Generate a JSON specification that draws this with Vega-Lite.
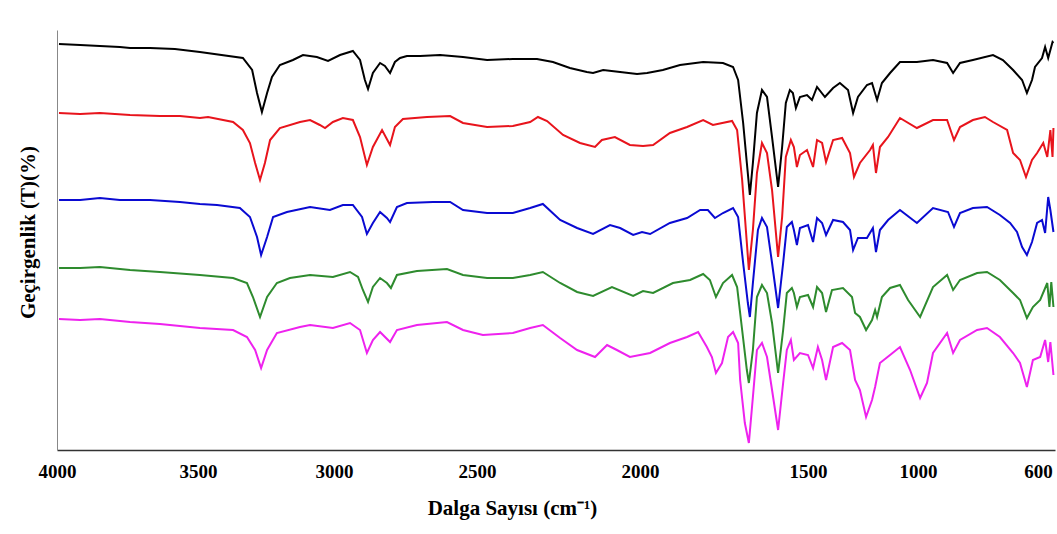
{
"$schema":"https://vega.github.io/schema/vega-lite/v6.json",
"width":998,"height":420,
"autosize":{"type":"none"},
"padding":{"left":57,"top":30,"right":2,"bottom":84},
"background":"white",
"config":{"view":{"stroke":null}},
"data":{"values":[
{"s":"1","wn":3993,"t":101.5},{"s":"1","wn":3918,"t":101.25},{"s":"1","wn":3848,"t":101},{"s":"1","wn":3777,"t":100.75},{"s":"1","wn":3741,"t":100.5},{"s":"1","wn":3670,"t":100.5},{"s":"1","wn":3582,"t":100.25},{"s":"1","wn":3493,"t":99.5},{"s":"1","wn":3335,"t":98},{"s":"1","wn":3301,"t":95},{"s":"1","wn":3283,"t":89.25},{"s":"1","wn":3265,"t":84.5},{"s":"1","wn":3246,"t":89.25},{"s":"1","wn":3228,"t":93.25},{"s":"1","wn":3199,"t":96.25},{"s":"1","wn":3151,"t":97.5},{"s":"1","wn":3114,"t":98.75},{"s":"1","wn":3063,"t":98.25},{"s":"1","wn":3022,"t":97.25},{"s":"1","wn":2979,"t":98.75},{"s":"1","wn":2934,"t":99.75},{"s":"1","wn":2909,"t":97.5},{"s":"1","wn":2892,"t":92.5},{"s":"1","wn":2881,"t":90.25},{"s":"1","wn":2864,"t":94.25},{"s":"1","wn":2839,"t":96.75},{"s":"1","wn":2822,"t":96},{"s":"1","wn":2804,"t":94.25},{"s":"1","wn":2787,"t":97},{"s":"1","wn":2769,"t":98},{"s":"1","wn":2745,"t":98.5},{"s":"1","wn":2699,"t":98.5},{"s":"1","wn":2629,"t":98.75},{"s":"1","wn":2549,"t":98.25},{"s":"1","wn":2469,"t":97.5},{"s":"1","wn":2390,"t":97.75},{"s":"1","wn":2316,"t":97.75},{"s":"1","wn":2267,"t":97},{"s":"1","wn":2215,"t":95.5},{"s":"1","wn":2163,"t":94.5},{"s":"1","wn":2144,"t":94.25},{"s":"1","wn":2113,"t":95},{"s":"1","wn":2061,"t":94.5},{"s":"1","wn":2009,"t":94},{"s":"1","wn":1979,"t":94.25},{"s":"1","wn":1932,"t":95},{"s":"1","wn":1881,"t":96.25},{"s":"1","wn":1812,"t":97},{"s":"1","wn":1753,"t":96.75},{"s":"1","wn":1723,"t":95.75},{"s":"1","wn":1708,"t":92.5},{"s":"1","wn":1693,"t":81.75},{"s":"1","wn":1682,"t":71.75},{"s":"1","wn":1673,"t":63.75},{"s":"1","wn":1664,"t":71.75},{"s":"1","wn":1652,"t":84.25},{"s":"1","wn":1637,"t":90},{"s":"1","wn":1622,"t":88.25},{"s":"1","wn":1607,"t":78.25},{"s":"1","wn":1589,"t":65.75},{"s":"1","wn":1577,"t":75.75},{"s":"1","wn":1566,"t":86.75},{"s":"1","wn":1554,"t":90},{"s":"1","wn":1545,"t":89.25},{"s":"1","wn":1536,"t":85.5},{"s":"1","wn":1524,"t":88.25},{"s":"1","wn":1503,"t":88.75},{"s":"1","wn":1482,"t":87.5},{"s":"1","wn":1459,"t":90.75},{"s":"1","wn":1423,"t":88.25},{"s":"1","wn":1386,"t":90.5},{"s":"1","wn":1355,"t":91.75},{"s":"1","wn":1318,"t":90},{"s":"1","wn":1295,"t":84.25},{"s":"1","wn":1273,"t":88.25},{"s":"1","wn":1232,"t":91.25},{"s":"1","wn":1209,"t":91.75},{"s":"1","wn":1186,"t":87.5},{"s":"1","wn":1164,"t":91.75},{"s":"1","wn":1127,"t":94.25},{"s":"1","wn":1082,"t":97},{"s":"1","wn":1005,"t":97},{"s":"1","wn":950,"t":97.5},{"s":"1","wn":903,"t":96.75},{"s":"1","wn":883,"t":94.25},{"s":"1","wn":860,"t":96.75},{"s":"1","wn":817,"t":97.5},{"s":"1","wn":750,"t":98.75},{"s":"1","wn":717,"t":97.5},{"s":"1","wn":683,"t":95},{"s":"1","wn":653,"t":92.5},{"s":"1","wn":637,"t":89.25},{"s":"1","wn":620,"t":92.5},{"s":"1","wn":610,"t":95.75},{"s":"1","wn":587,"t":98},{"s":"1","wn":577,"t":100.75},{"s":"1","wn":567,"t":98},{"s":"1","wn":553,"t":102},{"s":"1","wn":550,"t":101.75},
{"s":"2","wn":3993,"t":84.25},{"s":"2","wn":3918,"t":84},{"s":"2","wn":3848,"t":84.25},{"s":"2","wn":3741,"t":83.75},{"s":"2","wn":3635,"t":83.5},{"s":"2","wn":3564,"t":83.5},{"s":"2","wn":3493,"t":83},{"s":"2","wn":3463,"t":83.25},{"s":"2","wn":3371,"t":82},{"s":"2","wn":3335,"t":80},{"s":"2","wn":3309,"t":76.75},{"s":"2","wn":3290,"t":71.75},{"s":"2","wn":3272,"t":67.5},{"s":"2","wn":3254,"t":71.75},{"s":"2","wn":3235,"t":77.5},{"s":"2","wn":3199,"t":80.5},{"s":"2","wn":3125,"t":82},{"s":"2","wn":3088,"t":82.5},{"s":"2","wn":3052,"t":81.25},{"s":"2","wn":3033,"t":80.5},{"s":"2","wn":3004,"t":82},{"s":"2","wn":2969,"t":83},{"s":"2","wn":2934,"t":82.5},{"s":"2","wn":2909,"t":78.25},{"s":"2","wn":2885,"t":71.25},{"s":"2","wn":2864,"t":75.75},{"s":"2","wn":2832,"t":80},{"s":"2","wn":2804,"t":76.25},{"s":"2","wn":2787,"t":80.75},{"s":"2","wn":2759,"t":82.75},{"s":"2","wn":2675,"t":83.25},{"s":"2","wn":2594,"t":83.5},{"s":"2","wn":2549,"t":81.75},{"s":"2","wn":2469,"t":80.75},{"s":"2","wn":2390,"t":81},{"s":"2","wn":2337,"t":82},{"s":"2","wn":2313,"t":83.25},{"s":"2","wn":2285,"t":82.25},{"s":"2","wn":2236,"t":78.75},{"s":"2","wn":2184,"t":76.75},{"s":"2","wn":2138,"t":75.75},{"s":"2","wn":2117,"t":77.5},{"s":"2","wn":2077,"t":78.25},{"s":"2","wn":2031,"t":76.25},{"s":"2","wn":1991,"t":76},{"s":"2","wn":1961,"t":76.25},{"s":"2","wn":1911,"t":79.25},{"s":"2","wn":1860,"t":80.75},{"s":"2","wn":1812,"t":82.5},{"s":"2","wn":1783,"t":81.25},{"s":"2","wn":1726,"t":82.25},{"s":"2","wn":1711,"t":80},{"s":"2","wn":1696,"t":67.5},{"s":"2","wn":1682,"t":51.75},{"s":"2","wn":1676,"t":45},{"s":"2","wn":1664,"t":55},{"s":"2","wn":1652,"t":69.25},{"s":"2","wn":1637,"t":76.75},{"s":"2","wn":1622,"t":74.25},{"s":"2","wn":1607,"t":65},{"s":"2","wn":1589,"t":48.25},{"s":"2","wn":1577,"t":58.25},{"s":"2","wn":1566,"t":73.25},{"s":"2","wn":1551,"t":77.5},{"s":"2","wn":1542,"t":75.75},{"s":"2","wn":1533,"t":70.75},{"s":"2","wn":1524,"t":73.75},{"s":"2","wn":1503,"t":75},{"s":"2","wn":1477,"t":70.75},{"s":"2","wn":1459,"t":77.5},{"s":"2","wn":1436,"t":76.75},{"s":"2","wn":1418,"t":72},{"s":"2","wn":1386,"t":77.5},{"s":"2","wn":1345,"t":78},{"s":"2","wn":1309,"t":74.25},{"s":"2","wn":1291,"t":68.25},{"s":"2","wn":1264,"t":71.75},{"s":"2","wn":1218,"t":75},{"s":"2","wn":1205,"t":76.25},{"s":"2","wn":1191,"t":69.25},{"s":"2","wn":1173,"t":75.75},{"s":"2","wn":1136,"t":78.25},{"s":"2","wn":1082,"t":83},{"s":"2","wn":1005,"t":80.5},{"s":"2","wn":950,"t":82.5},{"s":"2","wn":903,"t":82.5},{"s":"2","wn":880,"t":77.5},{"s":"2","wn":860,"t":80.75},{"s":"2","wn":817,"t":82.5},{"s":"2","wn":777,"t":83.25},{"s":"2","wn":750,"t":82},{"s":"2","wn":703,"t":80},{"s":"2","wn":683,"t":74.25},{"s":"2","wn":660,"t":72.5},{"s":"2","wn":640,"t":68.25},{"s":"2","wn":620,"t":72.5},{"s":"2","wn":603,"t":74.25},{"s":"2","wn":583,"t":76.75},{"s":"2","wn":570,"t":73.25},{"s":"2","wn":560,"t":80},{"s":"2","wn":553,"t":73.25},{"s":"2","wn":550,"t":80.5},
{"s":"3","wn":3993,"t":62.5},{"s":"3","wn":3918,"t":62.5},{"s":"3","wn":3848,"t":63},{"s":"3","wn":3777,"t":62.5},{"s":"3","wn":3670,"t":62.5},{"s":"3","wn":3564,"t":62},{"s":"3","wn":3493,"t":61.5},{"s":"3","wn":3430,"t":61.25},{"s":"3","wn":3346,"t":60.5},{"s":"3","wn":3309,"t":58.25},{"s":"3","wn":3283,"t":53.25},{"s":"3","wn":3268,"t":48.75},{"s":"3","wn":3246,"t":53.25},{"s":"3","wn":3224,"t":58.25},{"s":"3","wn":3173,"t":59.5},{"s":"3","wn":3088,"t":60.75},{"s":"3","wn":3015,"t":60},{"s":"3","wn":2969,"t":61.25},{"s":"3","wn":2934,"t":61.25},{"s":"3","wn":2902,"t":58.25},{"s":"3","wn":2885,"t":54},{"s":"3","wn":2864,"t":56.75},{"s":"3","wn":2839,"t":59.5},{"s":"3","wn":2815,"t":58},{"s":"3","wn":2804,"t":57},{"s":"3","wn":2780,"t":60.75},{"s":"3","wn":2745,"t":61.75},{"s":"3","wn":2654,"t":62},{"s":"3","wn":2594,"t":62},{"s":"3","wn":2549,"t":60},{"s":"3","wn":2469,"t":59.25},{"s":"3","wn":2390,"t":59.25},{"s":"3","wn":2337,"t":60.5},{"s":"3","wn":2298,"t":61.5},{"s":"3","wn":2245,"t":57.5},{"s":"3","wn":2193,"t":55.5},{"s":"3","wn":2144,"t":54},{"s":"3","wn":2092,"t":56.25},{"s":"3","wn":2061,"t":55.5},{"s":"3","wn":2021,"t":53.75},{"s":"3","wn":1994,"t":54.5},{"s":"3","wn":1970,"t":54},{"s":"3","wn":1911,"t":56.75},{"s":"3","wn":1860,"t":58},{"s":"3","wn":1821,"t":60},{"s":"3","wn":1798,"t":60},{"s":"3","wn":1777,"t":58},{"s":"3","wn":1753,"t":59.25},{"s":"3","wn":1723,"t":60.5},{"s":"3","wn":1708,"t":58.25},{"s":"3","wn":1693,"t":46.75},{"s":"3","wn":1679,"t":36.75},{"s":"3","wn":1673,"t":33.25},{"s":"3","wn":1664,"t":41.75},{"s":"3","wn":1649,"t":55},{"s":"3","wn":1637,"t":58},{"s":"3","wn":1622,"t":55.75},{"s":"3","wn":1607,"t":46.75},{"s":"3","wn":1589,"t":35.5},{"s":"3","wn":1574,"t":46.75},{"s":"3","wn":1563,"t":55.75},{"s":"3","wn":1548,"t":57},{"s":"3","wn":1542,"t":55},{"s":"3","wn":1533,"t":51.25},{"s":"3","wn":1524,"t":55.5},{"s":"3","wn":1500,"t":56.25},{"s":"3","wn":1477,"t":52},{"s":"3","wn":1459,"t":58},{"s":"3","wn":1436,"t":56.75},{"s":"3","wn":1418,"t":53.75},{"s":"3","wn":1386,"t":57.5},{"s":"3","wn":1341,"t":57},{"s":"3","wn":1309,"t":55},{"s":"3","wn":1295,"t":50},{"s":"3","wn":1273,"t":53},{"s":"3","wn":1232,"t":53},{"s":"3","wn":1205,"t":55.5},{"s":"3","wn":1191,"t":49.5},{"s":"3","wn":1173,"t":55},{"s":"3","wn":1136,"t":57.5},{"s":"3","wn":1082,"t":60},{"s":"3","wn":1005,"t":56.75},{"s":"3","wn":950,"t":60.5},{"s":"3","wn":900,"t":59.5},{"s":"3","wn":880,"t":55.75},{"s":"3","wn":860,"t":59.25},{"s":"3","wn":817,"t":60.5},{"s":"3","wn":770,"t":60.75},{"s":"3","wn":727,"t":58.75},{"s":"3","wn":693,"t":56.75},{"s":"3","wn":670,"t":54.5},{"s":"3","wn":653,"t":50.75},{"s":"3","wn":637,"t":48.75},{"s":"3","wn":620,"t":52},{"s":"3","wn":603,"t":56.75},{"s":"3","wn":587,"t":57.5},{"s":"3","wn":577,"t":54.25},{"s":"3","wn":567,"t":63.25},{"s":"3","wn":560,"t":60},{"s":"3","wn":550,"t":54.5},
{"s":"4","wn":3993,"t":45.5},{"s":"4","wn":3918,"t":45.5},{"s":"4","wn":3848,"t":45.75},{"s":"4","wn":3741,"t":45},{"s":"4","wn":3635,"t":44.5},{"s":"4","wn":3493,"t":43.75},{"s":"4","wn":3371,"t":43},{"s":"4","wn":3320,"t":41.75},{"s":"4","wn":3298,"t":38.25},{"s":"4","wn":3272,"t":33.25},{"s":"4","wn":3246,"t":38.25},{"s":"4","wn":3210,"t":41.75},{"s":"4","wn":3162,"t":43},{"s":"4","wn":3088,"t":43.75},{"s":"4","wn":3004,"t":43.25},{"s":"4","wn":2944,"t":44.5},{"s":"4","wn":2916,"t":43.25},{"s":"4","wn":2899,"t":40},{"s":"4","wn":2881,"t":37},{"s":"4","wn":2864,"t":40.75},{"s":"4","wn":2839,"t":43},{"s":"4","wn":2815,"t":41.75},{"s":"4","wn":2801,"t":40.5},{"s":"4","wn":2780,"t":43.75},{"s":"4","wn":2710,"t":44.75},{"s":"4","wn":2605,"t":45.25},{"s":"4","wn":2549,"t":43.75},{"s":"4","wn":2469,"t":43},{"s":"4","wn":2390,"t":43},{"s":"4","wn":2337,"t":43.75},{"s":"4","wn":2298,"t":44.5},{"s":"4","wn":2245,"t":41.75},{"s":"4","wn":2193,"t":39.5},{"s":"4","wn":2144,"t":38.5},{"s":"4","wn":2086,"t":40.75},{"s":"4","wn":2021,"t":38.5},{"s":"4","wn":1991,"t":39.75},{"s":"4","wn":1961,"t":39.25},{"s":"4","wn":1902,"t":41.75},{"s":"4","wn":1851,"t":42.5},{"s":"4","wn":1812,"t":44},{"s":"4","wn":1792,"t":42.5},{"s":"4","wn":1774,"t":38.25},{"s":"4","wn":1753,"t":41.75},{"s":"4","wn":1726,"t":43.75},{"s":"4","wn":1711,"t":40.75},{"s":"4","wn":1696,"t":30},{"s":"4","wn":1682,"t":20},{"s":"4","wn":1676,"t":16.75},{"s":"4","wn":1664,"t":25},{"s":"4","wn":1652,"t":38.25},{"s":"4","wn":1637,"t":41.25},{"s":"4","wn":1622,"t":39.25},{"s":"4","wn":1607,"t":31.75},{"s":"4","wn":1589,"t":19.25},{"s":"4","wn":1574,"t":30},{"s":"4","wn":1563,"t":39.25},{"s":"4","wn":1548,"t":40.5},{"s":"4","wn":1542,"t":39.25},{"s":"4","wn":1533,"t":35.75},{"s":"4","wn":1524,"t":38.25},{"s":"4","wn":1500,"t":38.75},{"s":"4","wn":1477,"t":35.75},{"s":"4","wn":1459,"t":40.75},{"s":"4","wn":1436,"t":39.25},{"s":"4","wn":1418,"t":34.5},{"s":"4","wn":1391,"t":40},{"s":"4","wn":1341,"t":40.5},{"s":"4","wn":1300,"t":38.25},{"s":"4","wn":1286,"t":34.25},{"s":"4","wn":1264,"t":33.25},{"s":"4","wn":1236,"t":30},{"s":"4","wn":1209,"t":32.5},{"s":"4","wn":1195,"t":35},{"s":"4","wn":1186,"t":33.25},{"s":"4","wn":1164,"t":38.25},{"s":"4","wn":1127,"t":40.5},{"s":"4","wn":1082,"t":41.25},{"s":"4","wn":1045,"t":37.5},{"s":"4","wn":993,"t":33.25},{"s":"4","wn":950,"t":40.75},{"s":"4","wn":903,"t":43.75},{"s":"4","wn":883,"t":40},{"s":"4","wn":860,"t":42.5},{"s":"4","wn":803,"t":44.25},{"s":"4","wn":770,"t":44.5},{"s":"4","wn":727,"t":42.5},{"s":"4","wn":683,"t":39.25},{"s":"4","wn":660,"t":37.5},{"s":"4","wn":637,"t":33},{"s":"4","wn":617,"t":35.75},{"s":"4","wn":593,"t":37.5},{"s":"4","wn":570,"t":41.75},{"s":"4","wn":563,"t":35.75},{"s":"4","wn":557,"t":42},{"s":"4","wn":550,"t":35.75},
{"s":"5","wn":3993,"t":32.75},{"s":"5","wn":3918,"t":32.5},{"s":"5","wn":3848,"t":32.75},{"s":"5","wn":3741,"t":32},{"s":"5","wn":3635,"t":31.5},{"s":"5","wn":3493,"t":30.5},{"s":"5","wn":3371,"t":30},{"s":"5","wn":3320,"t":28.25},{"s":"5","wn":3290,"t":25},{"s":"5","wn":3268,"t":20.5},{"s":"5","wn":3246,"t":25},{"s":"5","wn":3210,"t":29.25},{"s":"5","wn":3125,"t":30.75},{"s":"5","wn":3088,"t":31.25},{"s":"5","wn":3004,"t":30.5},{"s":"5","wn":2944,"t":31.75},{"s":"5","wn":2909,"t":30},{"s":"5","wn":2885,"t":24.25},{"s":"5","wn":2864,"t":27.5},{"s":"5","wn":2839,"t":29.5},{"s":"5","wn":2804,"t":27},{"s":"5","wn":2780,"t":30},{"s":"5","wn":2710,"t":31.25},{"s":"5","wn":2605,"t":32},{"s":"5","wn":2549,"t":30},{"s":"5","wn":2482,"t":28.75},{"s":"5","wn":2390,"t":29.25},{"s":"5","wn":2337,"t":30.5},{"s":"5","wn":2298,"t":31.25},{"s":"5","wn":2245,"t":28},{"s":"5","wn":2193,"t":25},{"s":"5","wn":2138,"t":23.25},{"s":"5","wn":2101,"t":26.25},{"s":"5","wn":2071,"t":25},{"s":"5","wn":2031,"t":23.25},{"s":"5","wn":1970,"t":24.25},{"s":"5","wn":1911,"t":26.75},{"s":"5","wn":1860,"t":28.25},{"s":"5","wn":1827,"t":29.5},{"s":"5","wn":1801,"t":25.75},{"s":"5","wn":1786,"t":23.25},{"s":"5","wn":1774,"t":19.25},{"s":"5","wn":1756,"t":21.75},{"s":"5","wn":1738,"t":28.25},{"s":"5","wn":1723,"t":29.5},{"s":"5","wn":1708,"t":26.75},{"s":"5","wn":1702,"t":17.5},{"s":"5","wn":1688,"t":6.75},{"s":"5","wn":1676,"t":1.75},{"s":"5","wn":1664,"t":13.25},{"s":"5","wn":1652,"t":25},{"s":"5","wn":1637,"t":26.75},{"s":"5","wn":1622,"t":23.25},{"s":"5","wn":1607,"t":15},{"s":"5","wn":1589,"t":5},{"s":"5","wn":1574,"t":16.75},{"s":"5","wn":1563,"t":25},{"s":"5","wn":1551,"t":27.5},{"s":"5","wn":1542,"t":22.5},{"s":"5","wn":1524,"t":24.25},{"s":"5","wn":1500,"t":23.75},{"s":"5","wn":1477,"t":20.5},{"s":"5","wn":1455,"t":25.75},{"s":"5","wn":1436,"t":22.5},{"s":"5","wn":1418,"t":17.5},{"s":"5","wn":1386,"t":25.75},{"s":"5","wn":1345,"t":26.75},{"s":"5","wn":1309,"t":25},{"s":"5","wn":1286,"t":17.5},{"s":"5","wn":1264,"t":15},{"s":"5","wn":1236,"t":8.25},{"s":"5","wn":1209,"t":12.5},{"s":"5","wn":1195,"t":15.75},{"s":"5","wn":1173,"t":21.75},{"s":"5","wn":1127,"t":23.75},{"s":"5","wn":1082,"t":25.75},{"s":"5","wn":1036,"t":20},{"s":"5","wn":993,"t":13},{"s":"5","wn":970,"t":16.75},{"s":"5","wn":950,"t":24.25},{"s":"5","wn":903,"t":29.25},{"s":"5","wn":883,"t":24.25},{"s":"5","wn":860,"t":27.5},{"s":"5","wn":803,"t":30},{"s":"5","wn":770,"t":30.5},{"s":"5","wn":727,"t":28.25},{"s":"5","wn":683,"t":24.25},{"s":"5","wn":660,"t":21.75},{"s":"5","wn":637,"t":15.75},{"s":"5","wn":617,"t":22.5},{"s":"5","wn":593,"t":23.25},{"s":"5","wn":577,"t":27.5},{"s":"5","wn":567,"t":22},{"s":"5","wn":560,"t":27},{"s":"5","wn":550,"t":18.75}
]},
"mark":{"type":"line","strokeWidth":2},
"encoding":{
"x":{"field":"wn","type":"quantitative","scale":{"domain":[545,600,1000,1500,2000,2500,3000,3500,4000],"range":[998,981,861,751,583,420,277,141,0],"nice":false,"zero":false},
 "axis":{"values":[4000,3500,3000,2500,2000,1500,1000,600],"format":"d","grid":false,"ticks":false,"tickSize":0,"labelPadding":21,"labelBaseline":"middle","labelFont":"Liberation Serif","labelFontWeight":"bold","labelFontSize":19,"labelColor":"#000","labelFlush":false,"labelOverlap":false,"domainColor":"#333","domainWidth":1.5,
 "title":"Dalga Sayısı (cm⁻¹)","titleFont":"Liberation Serif","titleFontWeight":"bold","titleFontSize":21,"titleColor":"#000","titleX":455,"titleY":58,"titleAlign":"center","titleBaseline":"middle"}},
"y":{"field":"t","type":"quantitative","scale":{"domain":[0,105],"nice":false,"zero":false},
 "axis":{"labels":false,"ticks":false,"grid":false,"domainColor":"#888","domainWidth":1,
 "title":"Geçirgenlik (T)(%)","titleFont":"Liberation Serif","titleFontWeight":"bold","titleFontSize":21,"titleColor":"#000","titleX":-29,"titleY":202,"titleAngle":-90,"titleAlign":"center","titleBaseline":"middle"}},
"color":{"field":"s","type":"nominal","legend":null,"scale":{"domain":["1","2","3","4","5"],"range":["#000000","#e8141c","#0a0ad2","#2e8b2e","#ee22ee"]}}
}
}
